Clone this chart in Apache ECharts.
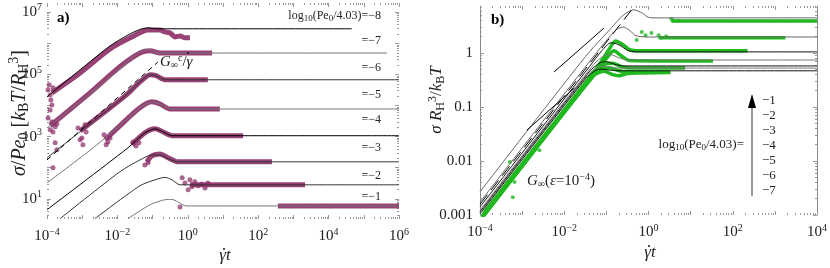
<!DOCTYPE html>
<html><head><meta charset="utf-8">
<script src="https://cdn.jsdelivr.net/npm/echarts/dist/echarts.min.js"></script>
<style>html,body{margin:0;padding:0;background:#fff}#c{width:830px;height:268px}</style>
</head><body><div id="c"></div>
<script>
// ---------- Panel a : sigma/Pe0 vs gamma-dot t ----------
const aLevels = [-8, -7, -6, -5, -4, -3, -2, -1];
const aTheoryM8 = [[-4,4.28],[-3.06,5.15],[-2.21,5.92],[-1.70,6.27],[-1.36,6.45],[-1.13,6.50],[-0.90,6.47],[4.66,6.47]];
const aTheoryM7 = [[-4,3.28],[-2.78,4.38],[-1.93,5.18],[-1.56,5.57],[-1.27,5.79],[-1.07,5.79],[-0.85,5.69],[5.66,5.69]];
const aTheoryM6 = [[-4,2.32],[-2.78,3.41],[-1.78,4.31],[-1.36,4.76],[-1.07,4.99],[-0.90,4.96],[-0.65,4.83],[6,4.83]];
const aTheoryM5 = [[-4,1.51],[-2.69,2.64],[-1.78,3.51],[-1.36,3.93],[-1.02,4.12],[-0.79,4.05],[-0.51,3.89],[6,3.89]];
const aTheoryM4 = [[-4,0.65],[-1.70,2.64],[-1.22,3.12],[-0.93,3.25],[-0.70,3.15],[-0.45,3.03],[6,3.03]];
const aTheoryM3 = [[-3.63,0.36],[-1.93,1.87],[-1.36,2.25],[-1.02,2.41],[-0.79,2.41],[-0.56,2.29],[-0.28,2.19],[6,2.19]];
const aTheoryM2 = [[-2.64,0.36],[-1.36,1.42],[-0.93,1.61],[-0.65,1.69],[-0.45,1.61],[-0.22,1.45],[6,1.45]];
const aTheoryM1 = [[-1.70,0.36],[-1.07,0.81],[-0.65,0.97],[-0.45,0.98],[-0.28,0.90],[-0.05,0.77],[6,0.77]];
const aDashed = [[-4,2.25],[-0.85,5.40]];

const aDataM8 = [[-3.86,4.41],[-3.06,5.05],[-2.21,5.82],[-1.64,6.18],[-1.13,6.43],[-0.79,6.43],[-0.65,6.37],[-0.51,6.34],[-0.36,6.21],[-0.22,6.24],[-0.08,6.18],[0.06,6.18]];
const aDataM7 = [[-3.91,3.35],[-2.78,4.41],[-1.93,5.25],[-1.36,5.69],[-1.07,5.76],[-0.79,5.69],[0.69,5.69]];
const aDataM6 = [[-3.06,3.18],[-1.78,4.31],[-1.36,4.76],[-1.07,4.99],[-0.90,4.96],[-0.65,4.83],[0.57,4.83]];
const aDataM5 = [[-2.35,2.90],[-1.78,3.51],[-1.36,3.93],[-1.02,4.12],[-0.79,4.05],[-0.51,3.89],[0.91,3.89]];
const aDataM4 = [[-1.59,2.74],[-1.22,3.12],[-0.93,3.25],[-0.70,3.15],[-0.45,3.03],[1.57,3.03]];
const aDataM3 = [[-1.16,2.19],[-1.02,2.38],[-0.79,2.44],[-0.56,2.32],[-0.28,2.19],[2.39,2.19]];
const aDataM2 = [[0.06,1.45],[3.33,1.45]];
const aDataM1 = [[2.56,0.77],[6,0.77]];
const aScatter = [[-3.94,4.67],[-3.91,4.34],[-3.89,4.18],[-3.86,4.02],[-3.91,3.86],[-3.97,4.50],[-3.83,4.57],
  [-3.97,3.60],[-3.86,3.48],[-3.77,3.32],[-3.91,3.22],[-3.83,3.15],[-3.72,3.41],
  [-3.12,3.28],[-3.01,2.96],[-2.92,3.38],[-3.06,2.90],[-2.89,3.15],[-2.98,2.74],
  [-2.38,3.06],[-2.27,2.83],[-2.21,2.96],[-2.32,2.74],
  [-1.56,2.83],[-1.47,2.70],[-1.39,2.80],[-1.22,2.09],[-1.13,2.16],
  [-3.83,2.00],[-3.77,2.80],[-3.72,2.58],
  [-0.16,1.68],[-0.08,1.51],[0.01,1.29],[0.12,1.39],[0.20,1.55],[0.29,1.42],[0.40,1.48],[0.49,1.35],[0.57,1.51],[0.06,1.61],
  [-0.22,0.74]];

// ---------- Panel b : sigma R_H^3/kBT vs gamma-dot t ----------
const bLevels = [-1, -2, -3, -4, -5, -6, -7];
const bTheoryM1 = [[-4,-2.57],[-1.5,-0.07],[-0.9,0.45],[-0.6,0.70],[-0.35,0.80],[-0.15,0.74],[0,0.66],[0.2,0.65],[4,0.65]];
const bTheoryM2 = [[-4,-2.76],[-1.2,0.04],[-0.9,0.32],[-0.75,0.44],[-0.6,0.48],[-0.45,0.42],[-0.3,0.32],[0,0.296],[4,0.296]];
const bTheoryM3 = [[-4,-2.85],[-1.4,-0.25],[-1.1,0.05],[-0.89,0.19],[-0.7,0.15],[-0.5,0.05],[-0.3,0.02],[4,0.02]];
const bTheoryM4 = [[-4,-2.91],[-1.3,-0.21],[-1.05,-0.05],[-0.9,-0.03],[-0.7,-0.09],[-0.5,-0.13],[4,-0.13]];
const bTheoryM5 = [[-4,-2.94],[-1.4,-0.34],[-1.15,-0.18],[-1.0,-0.16],[-0.8,-0.21],[-0.6,-0.24],[4,-0.24]];
const bTheoryM6 = [[-4,-2.96],[-1.45,-0.41],[-1.2,-0.26],[-1.05,-0.24],[-0.85,-0.27],[-0.65,-0.28],[4,-0.28]];
const bTheoryM7 = [[-4,-2.98],[-1.5,-0.48],[-1.25,-0.32],[-1.1,-0.30],[-0.9,-0.32],[-0.7,-0.33],[4,-0.33]];
const bDashed = [[-4,-2.80],[-0.1,1.1]];
const bExtra1 = [[-2.89,-1.43],[-1.76,-0.65]];
const bExtra2 = [[-2.24,-0.35],[-1.06,0.46]];

const bDataM1 = [[0.54,0.59],[4,0.59]];
const bDataM2 = [[0.24,0.28],[3.25,0.28]];
const bDataM3 = [[-3.9,-2.95],[-1.2,-0.25],[-0.95,0.05],[-0.78,0.22],[-0.6,0.15],[-0.45,0.06],[-0.2,0.04],[2.35,0.04]];
const bDataM4 = [[-3.9,-3.0],[-1.2,-0.3],[-1.0,-0.1],[-0.82,0.04],[-0.65,-0.05],[-0.45,-0.14],[1.53,-0.15]];
const bDataM5 = [[-3.95,-3.02],[-1.25,-0.35],[-1.05,-0.21],[-0.85,-0.19],[-0.65,-0.25],[-0.45,-0.28],[0.87,-0.28]];
const bDataM6 = [[-3.95,-3.05],[-1.3,-0.4],[-1.05,-0.28],[-0.9,-0.28],[-0.7,-0.33],[-0.5,-0.35],[0.52,-0.35]];
const bDataM7 = [[-3.95,-3.05],[-1.3,-0.42],[-1.05,-0.34],[-0.85,-0.40],[-0.7,-0.42],[-0.5,-0.38],[-0.2,-0.37],[0.52,-0.36]];
const bScatter = [[-3.29,-2.02],[-3.18,-2.39],[-3.22,-2.67],[-2.59,-1.80],
  [-0.28,0.24],[-0.16,0.39],[-0.07,0.33],[0.07,0.37],[0.24,0.33],[0.31,0.28],[0.42,0.31],
  [0.54,0.63],[0.59,0.60],[0.7,0.59]];

// tick label lists
const aXLabels = [-4, -2, 0, 2, 4, 6];
const aYLabels = [1, 3, 5, 7];
const bXLabels = [-4, -2, 0, 2, 4];
const bYLabels = [-3, -2, -1, 0];
const bYLabelText = {'-3':'0.001','-2':'0.01','-1':'0.1','0':'1'};

const SERIF = '"Liberation Serif","DejaVu Serif",serif';
const TXT = '#222';
const MAG = 'rgba(140,44,102,0.9)';
const GRN = '#1fb81f';

function majors(min, max){ const o=[]; for(let d=Math.ceil(min); d<=Math.floor(max); d++) o.push(d); return o; }
function minors(min, max){ const o=[]; for(let d=Math.floor(min); d<=Math.ceil(max); d++){ for(let k=2;k<=9;k++){ const v=d+Math.log10(k); if(v>min && v<max) o.push(v);} } return o; }
const supRich = {
  b:{fontFamily:SERIF,fontSize:15,color:TXT},
  s:{fontFamily:SERIF,fontSize:10,color:TXT,padding:[0,0,9,0]}
};
function expFmt(v){ const e=Math.round(v); return '{b|10}{s|'+(e<0?'\u2212'+(-e):e)+'}'; }

function tickAxis(grid, min, max, position, vals, len, opts){
  opts = opts || {};
  return Object.assign({
    type:'value', gridIndex:grid, min:min, max:max, position:position,
    axisLine:{show:!!opts.line, onZero:false, lineStyle:{color:'#888',width:1}},
    axisTick:{show:true, inside:true, length:len, customValues:vals, lineStyle:{color:'#999',width:1}},
    axisLabel:{show:false}, splitLine:{show:false}
  }, opts.extra || {});
}

const aX=[-4,6], aY=[0.35,7.3], bX=[-4,4], bY=[-3,0.87];

const xAxes = [
  tickAxis(0,aX[0],aX[1],'bottom',majors(aX[0],aX[1]),4,{extra:{axisLabel:{show:true,margin:8,customValues:aXLabels,formatter:expFmt,rich:supRich}}}),
  tickAxis(0,aX[0],aX[1],'bottom',minors(aX[0],aX[1]),2),
  tickAxis(0,aX[0],aX[1],'top',majors(aX[0],aX[1]),4),
  tickAxis(0,aX[0],aX[1],'top',minors(aX[0],aX[1]),2),
  tickAxis(1,bX[0],bX[1],'bottom',majors(bX[0],bX[1]),4,{extra:{axisLabel:{show:true,margin:8,customValues:bXLabels,formatter:expFmt,rich:supRich}}}),
  tickAxis(1,bX[0],bX[1],'bottom',minors(bX[0],bX[1]),2),
  tickAxis(1,bX[0],bX[1],'top',majors(bX[0],bX[1]),4),
  tickAxis(1,bX[0],bX[1],'top',minors(bX[0],bX[1]),2)
];
const yAxes = [
  tickAxis(0,aY[0],aY[1],'left',majors(aY[0],aY[1]),4,{extra:{axisLabel:{show:true,margin:5,customValues:aYLabels,formatter:expFmt,rich:supRich}}}),
  tickAxis(0,aY[0],aY[1],'left',minors(aY[0],aY[1]),2),
  tickAxis(0,aY[0],aY[1],'right',majors(aY[0],aY[1]),4),
  tickAxis(0,aY[0],aY[1],'right',minors(aY[0],aY[1]),2),
  tickAxis(1,bY[0],bY[1],'left',majors(bY[0],bY[1]),4,{line:true,extra:{axisLabel:{show:true,margin:7,customValues:bYLabels,formatter:v=>bYLabelText[String(Math.round(v))],fontFamily:SERIF,fontSize:15,color:TXT}}}),
  tickAxis(1,bY[0],bY[1],'left',minors(bY[0],bY[1]),2),
  tickAxis(1,bY[0],bY[1],'right',majors(bY[0],bY[1]),4,{line:true}),
  tickAxis(1,bY[0],bY[1],'right',minors(bY[0],bY[1]),2)
];

const series = [];
function line(xi, yi, data, color, width, z, extra){
  series.push(Object.assign({type:'line', xAxisIndex:xi, yAxisIndex:yi, data:data, showSymbol:false, symbol:'none',
    smooth:0.25, silent:true, z:z, lineStyle:{color:color, width:width}}, extra||{}));
}
function scat(xi, yi, data, color, size, z){
  series.push({type:'scatter', xAxisIndex:xi, yAxisIndex:yi, data:data, symbolSize:size, silent:true, z:z, itemStyle:{color:color}});
}
// panel a data
[aDataM8,aDataM7,aDataM6,aDataM5,aDataM4,aDataM3,aDataM2,aDataM1].forEach(d=>line(0,0,d,MAG,5,2));
scat(0,0,aScatter,MAG,5,2);
// panel a theory
const aCols = ['#000','#777','#333','#777','#000','#333','#333','#777'];
[aTheoryM8,aTheoryM7,aTheoryM6,aTheoryM5,aTheoryM4,aTheoryM3,aTheoryM2,aTheoryM1].forEach((d,i)=>line(0,0,d,aCols[i],1,3));
line(0,0,aDashed,'#000',1,3,{smooth:false,lineStyle:{color:'#000',width:1,type:[5,4]}});
// panel b data
[bDataM1,bDataM2,bDataM3,bDataM4,bDataM5,bDataM6,bDataM7].forEach(d=>line(4,4,d,GRN,3.5,2));
scat(4,4,bScatter,GRN,4,2);
// panel b theory
const bCols = ['#666','#666','#111','#777','#111','#777','#111'];
[bTheoryM1,bTheoryM2,bTheoryM3,bTheoryM4,bTheoryM5,bTheoryM6,bTheoryM7].forEach((d,i)=>line(4,4,d,bCols[i],1,3));
line(4,4,bDashed,'#000',1,3,{smooth:false,lineStyle:{color:'#000',width:1,type:[12,6]}});
line(4,4,bExtra1,'#000',1,3,{smooth:false});
line(4,4,bExtra2,'#000',1,3,{smooth:false});

const R = {
  n:{fontFamily:SERIF,fontSize:13,color:TXT},
  i:{fontFamily:SERIF,fontSize:13,fontStyle:'italic',color:TXT},
  sb:{fontFamily:SERIF,fontSize:9,color:TXT,padding:[6,0,0,0]},
  sp:{fontFamily:SERIF,fontSize:9,color:TXT,padding:[0,0,7,0]}
};
function rich(scale){
  const o={};
  for (const k in R){ o[k]=Object.assign({},R[k],{fontSize:Math.round(R[k].fontSize*scale)}); if(R[k].padding) o[k].padding=R[k].padding.map(p=>Math.round(p*scale)); }
  return o;
}
function txt(x,y,text,scale,align,extra){
  return Object.assign({type:'text', x:x, y:y, silent:true, z:10,
    style:{text:text, rich:rich(scale), align:align||'left', verticalAlign:'middle', fill:TXT, font:Math.round(13*scale)+'px '+SERIF}}, extra||{});
}
function plain(x,y,t,size,align,italic,extra){
  return Object.assign({type:'text', x:x, y:y, silent:true, z:10,
    style:{text:t, align:align||'left', verticalAlign:'middle', fill:TXT, font:(italic?'italic ':'')+size+'px '+SERIF}}, extra||{});
}
function dot(x,y){ return {type:'circle', silent:true, z:11, shape:{cx:x,cy:y,r:1.1}, style:{fill:TXT}}; }
const labelsA = aLevels.map((lv,i)=>{
  const ys=[16,41,68,95,120,148,176,197];
  const val='\u2212'+(-lv);
  const t = i===0 ? '{n|log}{sb|10}{n|(Pe}{sb|0}{n|/4.03)='+val+'}' : '{n|='+val+'}';
  return txt(381, ys[i], t, 0.95, 'right');
});
const labelsB = bLevels.map((lv,i)=>txt(762, 101+15*i, '{n|\u2212'+(-lv)+'}', 1.0, 'left'));

const boldR = {b:{fontFamily:SERIF,fontSize:15,fontWeight:'bold',color:TXT}};
const graphic = [
  {type:'text', x:57, y:18, silent:true, z:10, style:{text:'{b|a)}', rich:boldR, verticalAlign:'middle'}},
  {type:'text', x:491, y:20, silent:true, z:10, style:{text:'{b|b)}', rich:boldR, verticalAlign:'middle'}},
  ...labelsA, ...labelsB,
  txt(160,62,'{i|G}{sb|\u221e}{sp|c}{n|/}{i|\u03b3}',1.15,'left'),
  dot(188,53),
  txt(527,181,'{i|G}{sb|\u221e}{n|(}{i|\u03b5}{n|=10}{sp|\u22124}{n|)}',1.15,'left'),
  txt(744,145,'{n|log}{sb|10}{n|(Pe}{sb|0}{n|/4.03)=}',1.0,'right'),
  plain(225,256,'\u03b3t',17,'center',true),
  dot(224,249),
  plain(650,253,'\u03b3t',17,'center',true),
  dot(649,246),
  txt(20,113,'{i|\u03c3}{n|/}{i|Pe}{sb|0}{n| [}{i|k}{sb|B}{i|T}{n|/}{i|R}{sb|H}{sp|3}{n|]}',1.55,'center',{rotation:Math.PI/2}),
  txt(437,100,'{i|\u03c3 R}{sb|H}{sp|3}{n|/}{i|k}{sb|B}{i|T}',1.3,'center',{rotation:Math.PI/2}),
  {type:'line', silent:true, z:10, shape:{x1:752,y1:196,x2:752,y2:104}, style:{stroke:'#333',lineWidth:1}},
  {type:'polygon', silent:true, z:10, shape:{points:[[748,108],[752,94],[756,108]]}, style:{fill:'#000'}}
];

const chart = echarts.init(document.getElementById('c'), null, {renderer:'canvas'});
chart.setOption({
  animation:false,
  backgroundColor:'#fff',
  grid:[
    {left:47, right:431, top:3, bottom:49},
    {left:480, right:10, top:6, bottom:53}
  ],
  xAxis:xAxes, yAxis:yAxes, series:series, graphic:graphic
});
</script></body></html>
